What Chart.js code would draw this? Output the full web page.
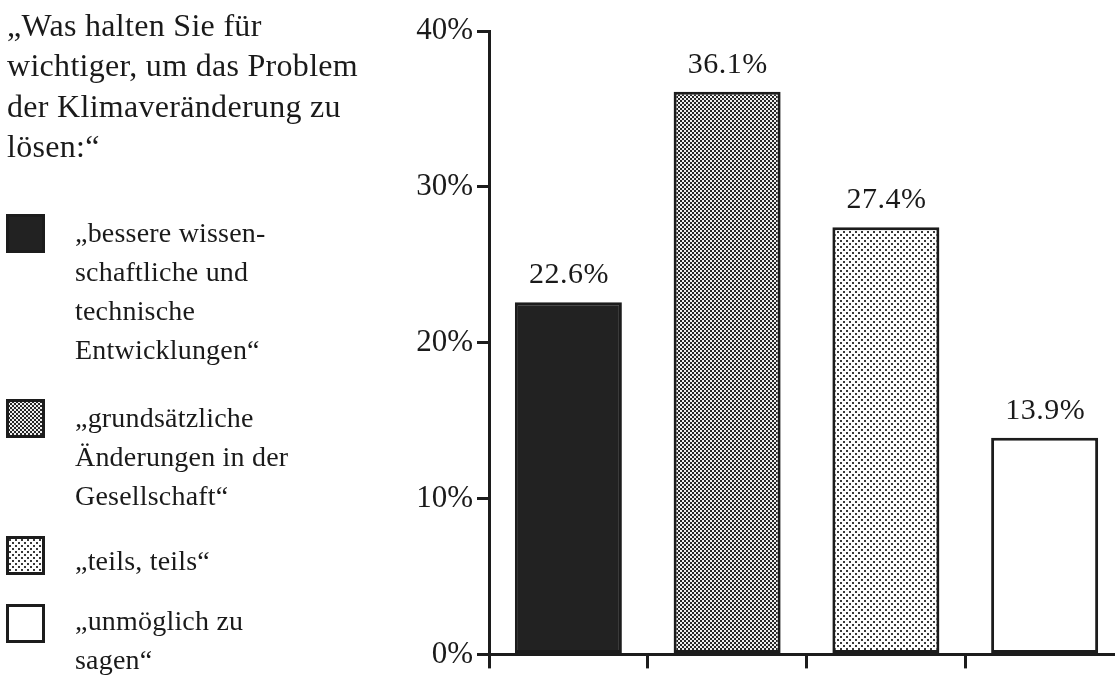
<!DOCTYPE html>
<html><head><meta charset="utf-8">
<script src="https://cdn.jsdelivr.net/npm/chart.js@4/dist/chart.umd.min.js"></script>
<style>
html,body{margin:0;padding:0;background:#fff;overflow:hidden;width:1115px;height:677px;}
#wrap{position:absolute;left:0;top:0;width:1126px;height:677px;}
.t{position:absolute;font-family:"Liberation Serif","Times New Roman",serif;color:#1a1a1a;white-space:nowrap;}
#title{left:7px;top:4.9px;font-size:32px;line-height:40.5px;letter-spacing:0.3px;}
.lg{left:75px;font-size:28px;line-height:39px;letter-spacing:0.2px;}
.sw{position:absolute;left:6px;width:39px;height:39px;}
</style></head>
<body>
<div id="wrap"><canvas id="c"></canvas></div>
<div id="title" class="t"></div>
<div id="legend"></div>
<script>
// ---- data ----
const titleLines = ['„Was halten Sie für', 'wichtiger, um das Problem', 'der Klimaveränderung zu', 'lösen:“'];
const categories = ['bessere wissenschaftliche und technische Entwicklungen', 'grundsätzliche Änderungen in der Gesellschaft', 'teils, teils', 'unmöglich zu sagen'];
const legendLines = [
  ['„bessere wissen-', 'schaftliche und', 'technische', 'Entwicklungen“'],
  ['„grundsätzliche', 'Änderungen in der', 'Gesellschaft“'],
  ['„teils, teils“'],
  ['„unmöglich zu', 'sagen“']
];
const values = [22.6, 36.1, 27.4, 13.9];
const yMin = 0, yMax = 40, yStep = 10;

// ---- styles ----
const INK = '#1c1c1c';
function makePattern(kind){
  const c = document.createElement('canvas');
  const g = c.getContext('2d');
  if (kind === 'solid') { return '#222'; }
  if (kind === 'white') { return '#ffffff'; }
  if (kind === 'dense') {
    c.width = 4; c.height = 4;
    g.fillStyle = '#eeeeee'; g.fillRect(0,0,4,4);
    g.fillStyle = '#262626';
    g.fillRect(0,0,2,2); g.fillRect(2,2,2,2);
  } else {
    c.width = 6; c.height = 6;
    g.fillStyle = '#ffffff'; g.fillRect(0,0,6,6);
    g.fillStyle = '#3a3a3a';
    g.fillRect(0,0,2,2); g.fillRect(3,3,2,2);
  }
  return g.createPattern(c, 'repeat');
}
const fillKinds = ['solid', 'dense', 'sparse', 'white'];

// title
document.getElementById('title').innerHTML = titleLines.join('<br>');
// legend
const legendTops = [213, 398, 541, 601];
const boxTops = [214, 399, 536, 604];
const lg = document.getElementById('legend');
legendLines.forEach((lines, i) => {
  const d = document.createElement('div');
  d.className = 't lg';
  d.style.top = legendTops[i] + 'px';
  d.innerHTML = lines.join('<br>');
  lg.appendChild(d);
  const sw = document.createElement('canvas');
  sw.className = 'sw'; sw.width = 39; sw.height = 39;
  sw.style.top = boxTops[i] + 'px';
  const g = sw.getContext('2d');
  g.fillStyle = makePattern(fillKinds[i]);
  g.fillRect(0,0,39,39);
  g.strokeStyle = INK; g.lineWidth = 3;
  g.strokeRect(1.5,1.5,36,36);
  lg.appendChild(sw);
});

const labelPlugin = {
  id: 'valueLabels',
  afterDatasetsDraw(chart){
    const ctx = chart.ctx;
    const meta = chart.getDatasetMeta(0);
    ctx.save();
    ctx.font = '30px "Liberation Serif"';
    ctx.fillStyle = '#1a1a1a';
    ctx.textAlign = 'center';
    ctx.textBaseline = 'alphabetic';
    try { ctx.letterSpacing = '0.5px'; } catch(e) {}
    meta.data.forEach((bar, i) => {
      ctx.fillText(values[i].toFixed(1) + '%', bar.x + 0.5, bar.y - 19);
    });
    ctx.restore();
  }
};

new Chart(document.getElementById('c'), {
  type: 'bar',
  data: {
    labels: categories,
    datasets: [{
      data: values,
      backgroundColor: fillKinds.map(makePattern),
      borderColor: INK,
      borderWidth: 3,
      borderSkipped: false,
      barPercentage: 0.674,
      categoryPercentage: 1
    }]
  },
  options: {
    responsive: true,
    maintainAspectRatio: false,
    animation: false,
    devicePixelRatio: 1,
    layout: { padding: { left: 0, right: 2, top: 31, bottom: 0 } },
    plugins: { legend: { display: false }, tooltip: { enabled: false } },
    scales: {
      x: {
        afterFit(s){ s.height = 18; },
        ticks: { display: false },
        grid: { display: true, offset: true, drawOnChartArea: false, drawTicks: true, tickLength: 14, color: INK, lineWidth: 3 },
        border: { display: true, color: INK, width: 3 }
      },
      y: {
        min: yMin, max: yMax,
        afterFit(s){ s.width = 489; },
        ticks: {
          stepSize: yStep,
          callback: v => v + '%',
          font: { family: 'Liberation Serif', size: 31 },
          color: '#1a1a1a',
          padding: 4
        },
        grid: { drawOnChartArea: false, drawTicks: true, tickLength: 12, color: INK, lineWidth: 3 },
        border: { display: true, color: INK, width: 3 }
      }
    }
  },
  plugins: [labelPlugin]
});
</script>
</body></html>
